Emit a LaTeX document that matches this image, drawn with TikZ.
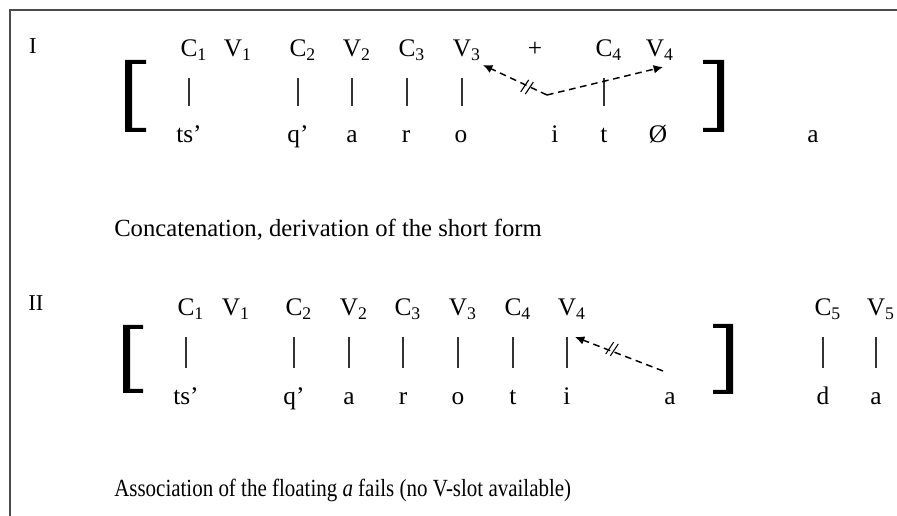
\documentclass[tikz,border=0pt]{standalone}
\usepackage{fontspec}
\setmainfont{Liberation Serif}
\usetikzlibrary{arrows.meta,calc}
\newcommand\slotsub[1]{\rlap{\textsubscript{#1}}}
\begin{document}
\begin{tikzpicture}[x=0.75pt,y=-0.75pt,
  lab/.style={anchor=base,inner sep=0pt,font=\fontsize{19}{23}\selectfont},
  num/.style={anchor=base,inner sep=0pt,font=\fontsize{17}{20}\selectfont},
  captext/.style={anchor=base west,inner sep=0pt,font=\fontsize{18.5}{22}\selectfont},
  bar/.style={line width=0.9pt,black!80,shorten <=15.75pt,shorten >=27.75pt},
  dasharrow/.style={line width=1.1pt,dash pattern=on 5pt off 3.5pt,-{Latex[length=7pt,width=6.5pt]}},
  slashmark/.style={line width=0.8pt},
  frameline/.style={line width=1.1pt,black!70},
  brk/.style={fill=black}]
\useasboundingbox (0,0) rectangle (897,516);
% frame
\coordinate (f0) at (10,10);
\coordinate (f1) at (897,10);
\coordinate (f2) at (10,516);
\draw[frameline] (f2) -- (f0) -- (f1);

% ---------------- Row I ----------------
\node[num] (n1) at (33,54) {I};
\node[lab] (c1a) at (189,57) {C\slotsub{1}};
\node[lab] (v1a) at (233,57) {V\slotsub{1}};
\node[lab] (c2a) at (298,57) {C\slotsub{2}};
\node[lab] (v2a) at (352,57) {V\slotsub{2}};
\node[lab] (c3a) at (407,57) {C\slotsub{3}};
\node[lab] (v3a) at (462,57) {V\slotsub{3}};
\node[lab] (plus) at (535,57) {+};
\node[lab] (c4a) at (604,57) {C\slotsub{4}};
\node[lab] (v4a) at (655,57) {V\slotsub{4}};

\node[lab] (tsa) at (189,143) {ts’};
\node[lab] (qa) at (298,143) {q’};
\node[lab] (aa) at (352,143) {a};
\node[lab] (ra) at (406,143) {r};
\node[lab] (oa) at (461,143) {o};
\node[lab] (ia) at (555,143) {i};
\node[lab] (ta) at (604,143) {t};
\node[lab] (za) at (658,143) {Ø};
\node[lab] (fa) at (813,143) {a};

\draw[bar] (c1a.base) -- (c1a.base |- tsa.base);
\draw[bar] (c2a.base) -- (c2a.base |- qa.base);
\draw[bar] (v2a.base) -- (v2a.base |- aa.base);
\draw[bar] (c3a.base) -- (c3a.base |- ra.base);
\draw[bar] (v3a.base) -- (v3a.base |- oa.base);
\draw[bar] (c4a.base) -- (c4a.base |- ta.base);

\fill[brk] (125,60) -- (146,60) -- (146,64) -- (132,64) -- (132,128) -- (146,128) -- (146,132) -- (125,132) -- cycle;
\fill[brk] (724,60) -- (703,60) -- (703,64) -- (717,64) -- (717,128) -- (703,128) -- (703,132) -- (724,132) -- cycle;

\coordinate (s1) at (547,95);
\coordinate (t1l) at (483,65);
\coordinate (t1r) at (663,67);
\draw[dasharrow] (s1) -- (t1l);
\draw[dasharrow] (s1) -- (t1r);
\coordinate (m1a) at (529.3,88.1);
\coordinate (m1b) at (524.7,85.9);
\draw[slashmark] ($(m1a)+(-4,6)$) -- ($(m1a)+(4,-6)$);
\draw[slashmark] ($(m1b)+(-4,6)$) -- ($(m1b)+(4,-6)$);

\node[captext] (cap1) at (114,237) {Concatenation, derivation of the short form};

% ---------------- Row II ----------------
\node[num] (n2) at (36,311) {II};
\node[lab] (c1b) at (186,316) {C\slotsub{1}};
\node[lab] (v1b) at (231,316) {V\slotsub{1}};
\node[lab] (c2b) at (294,316) {C\slotsub{2}};
\node[lab] (v2b) at (349,316) {V\slotsub{2}};
\node[lab] (c3b) at (403,316) {C\slotsub{3}};
\node[lab] (v3b) at (458,316) {V\slotsub{3}};
\node[lab] (c4b) at (513,316) {C\slotsub{4}};
\node[lab] (v4b) at (567,316) {V\slotsub{4}};
\node[lab] (c5b) at (823,316) {C\slotsub{5}};
\node[lab] (v5b) at (876,316) {V\slotsub{5}};

\node[lab] (tsb) at (186,405) {ts’};
\node[lab] (qb) at (294,405) {q’};
\node[lab] (ab) at (349,405) {a};
\node[lab] (rb) at (403,405) {r};
\node[lab] (ob) at (458,405) {o};
\node[lab] (tb) at (513,405) {t};
\node[lab] (ib) at (567,405) {i};
\node[lab] (fb) at (670,405) {a};
\node[lab] (db) at (823,405) {d};
\node[lab] (a2b) at (876,405) {a};

\draw[bar] (c1b.base) -- (c1b.base |- tsb.base);
\draw[bar] (c2b.base) -- (c2b.base |- qb.base);
\draw[bar] (v2b.base) -- (v2b.base |- ab.base);
\draw[bar] (c3b.base) -- (c3b.base |- rb.base);
\draw[bar] (v3b.base) -- (v3b.base |- ob.base);
\draw[bar] (c4b.base) -- (c4b.base |- tb.base);
\draw[bar] (v4b.base) -- (v4b.base |- ib.base);
\draw[bar] (c5b.base) -- (c5b.base |- db.base);
\draw[bar] (v5b.base) -- (v5b.base |- a2b.base);

\fill[brk] (123,325) -- (143,325) -- (143,329) -- (130,329) -- (130,389) -- (143,389) -- (143,393) -- (123,393) -- cycle;
\fill[brk] (733,324) -- (713,324) -- (713,328) -- (726,328) -- (726,390) -- (713,390) -- (713,394) -- (733,394) -- cycle;

\coordinate (s2) at (663,371);
\coordinate (t2) at (575,337);
\draw[dasharrow] (s2) -- (t2);
\coordinate (m2a) at (614.3,349.9);
\coordinate (m2b) at (609.7,348.1);
\draw[slashmark] ($(m2a)+(-4,6)$) -- ($(m2a)+(4,-6)$);
\draw[slashmark] ($(m2b)+(-4,6)$) -- ($(m2b)+(4,-6)$);

\node[captext] (cap2) at (114,497) {\scalebox{0.85}[1]{Association of the floating \textit{a} fails (no V-slot available)}};
\end{tikzpicture}
\end{document}
